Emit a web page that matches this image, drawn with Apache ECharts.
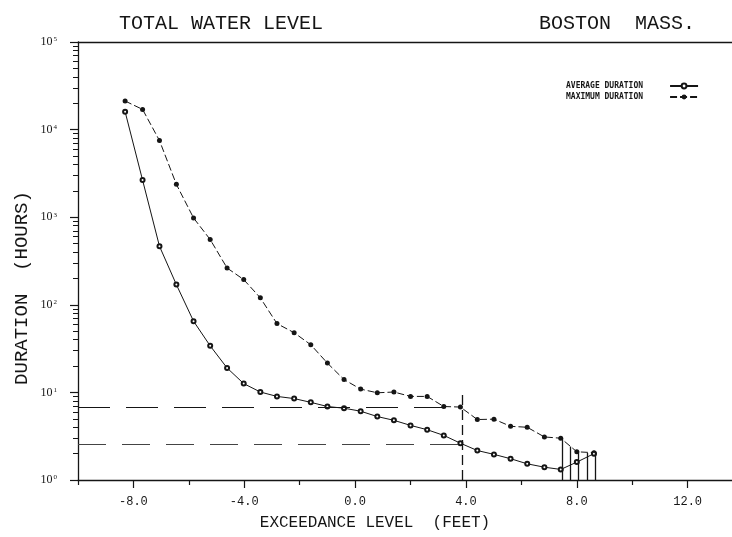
<!DOCTYPE html>
<html>
<head>
<meta charset="utf-8">
<script src="https://cdn.jsdelivr.net/npm/echarts@6/dist/echarts.min.js"></script>
<style>
  html, body { margin: 0; padding: 0; background: #fff; }
  #main { width: 732px; height: 537px; }
</style>
</head>
<body>
<div id="main"></div>
<script>
// exceedance level (feet) shared by both curves
const levels = [-8.3, -7.67, -7.06, -6.45, -5.83, -5.23, -4.62, -4.02, -3.42, -2.82,
  -2.2, -1.6, -1.0, -0.4, 0.2, 0.8, 1.4, 2.0, 2.6, 3.2,
  3.8, 4.41, 5.01, 5.61, 6.21, 6.83, 7.42, 8.0, 8.62];
// duration (hours)
const maxDuration = [21200, 17000, 7500, 2370, 980, 556, 263, 194, 120, 61,
  48, 35, 21.6, 14.0, 10.9, 9.9, 10.1, 9.0, 9.0, 6.9,
  6.8, 4.9, 4.95, 4.1, 4.0, 3.1, 3.0, 2.1, 2.05];
const avgDuration = [16000, 2650, 466, 170, 65, 34, 19, 12.6, 10.1, 9.0,
  8.5, 7.7, 6.9, 6.6, 6.1, 5.3, 4.8, 4.2, 3.75, 3.23,
  2.63, 2.17, 1.96, 1.75, 1.53, 1.40, 1.32, 1.6, 2.0];

// reading lines at 4 ft
const refLevel = 3.85;
const refMax = 6.8;
const refAvg = 2.55;
const refTop = 10;

// hatched end region
const hatchLevels = [7.46, 7.76, 8.06, 8.36, 8.66];
const hatchTops = [2.98, 2.41, 2.12, 2.04, 2.06];

const xLabelTicks = [-8, -4, 0, 4, 8, 12];
const xMinorTicks = [-10, -6, -2, 2, 6, 10];
const yMajorTicks = [1, 10, 100, 1000, 10000, 100000];
const yMinorTicks = [];
for (let d = 1; d <= 10000; d *= 10) {
  for (let k = 2; k <= 9; k++) yMinorTicks.push(k * d);
}

const ink = '#151515';
const mono = 'Liberation Mono';

function pairs(xs, ys) {
  return xs.map((x, i) => [x, ys[i]]);
}

let myChart = echarts.init(document.getElementById('main'));

let option = {
  animation: false,
  backgroundColor: '#fff',
  title: [
    { text: 'TOTAL WATER LEVEL', left: 114, top: 9,
      textStyle: { fontFamily: mono, fontSize: 20, fontWeight: 'normal', color: ink } },
    { text: 'BOSTON  MASS.', left: 534, top: 9,
      textStyle: { fontFamily: mono, fontSize: 20, fontWeight: 'normal', color: ink } }
  ],
  legend: {
    orient: 'vertical',
    left: 561,
    top: 77,
    align: 'right',
    itemWidth: 28,
    itemHeight: 6,
    itemGap: 3,
    textStyle: { fontFamily: 'DejaVu Sans Mono', fontWeight: 'bold', fontSize: 8, color: ink, padding: [0, 22, 0, 0] },
    data: ['AVERAGE DURATION', 'MAXIMUM DURATION']
  },
  grid: { left: 78, right: 0, top: 42, bottom: 57 },
  xAxis: [
    {
      type: 'value', min: -10, max: 13.6, position: 'bottom',
      axisLine: { onZero: false, lineStyle: { color: ink, width: 1.3 } },
      axisTick: { customValues: xLabelTicks, length: 8, lineStyle: { color: ink, width: 1.2 } },
      axisLabel: { customValues: xLabelTicks, margin: 16, fontFamily: mono, fontSize: 12, color: ink,
        formatter: v => v.toFixed(1) },
      splitLine: { show: false }
    },
    {
      type: 'value', min: -10, max: 13.6, position: 'bottom',
      axisLine: { show: false, onZero: false },
      axisTick: { customValues: xMinorTicks, length: 5, lineStyle: { color: ink, width: 1.2 } },
      axisLabel: { show: false },
      splitLine: { show: false }
    },
    {
      type: 'value', min: -10, max: 13.6, position: 'top',
      axisLine: { onZero: false, lineStyle: { color: ink, width: 1.3 } },
      axisTick: { show: false },
      axisLabel: { show: false },
      splitLine: { show: false }
    }
  ],
  yAxis: [
    {
      type: 'log', logBase: 10, min: 1, max: 100000, position: 'left',
      axisLine: { show: true, onZero: false, lineStyle: { color: ink, width: 1.3 } },
      axisTick: { customValues: yMajorTicks, length: 8, lineStyle: { color: ink, width: 1.2 } },
      axisLabel: {
        customValues: yMajorTicks, margin: 21, color: ink,
        formatter: v => '{b|10}{s|' + Math.round(Math.log10(v)) + '}',
        rich: {
          b: { fontFamily: 'Liberation Serif', fontSize: 12, color: ink },
          s: { fontFamily: 'Liberation Serif', fontSize: 7, color: ink, verticalAlign: 'top', padding: [0, 0, 0, 1] }
        }
      },
      splitLine: { show: false }
    },
    {
      type: 'log', logBase: 10, min: 1, max: 100000, position: 'left',
      axisLine: { show: false, onZero: false },
      axisTick: { customValues: yMinorTicks, length: 5, lineStyle: { color: ink, width: 1 } },
      axisLabel: { show: false },
      splitLine: { show: false }
    }
  ],
  graphic: [
    { type: 'text', x: 375, y: 523, style: { text: 'EXCEEDANCE LEVEL  (FEET)', font: '16px "Liberation Mono"',
      fill: ink, align: 'center', verticalAlign: 'middle', textAlign: 'center', textVerticalAlign: 'middle' } },
    { type: 'text', x: 22, y: 288, rotation: Math.PI / 2, style: { text: 'DURATION  (HOURS)', font: '19px "Liberation Mono"',
      fill: ink, align: 'center', verticalAlign: 'middle', textAlign: 'center', textVerticalAlign: 'middle' } }
  ],
  series: [
    {
      name: 'MAXIMUM DURATION',
      type: 'line',
      data: pairs(levels, maxDuration),
      symbol: 'circle',
      symbolSize: 5,
      itemStyle: { color: ink },
      lineStyle: { color: ink, width: 1, type: [7, 3] },
      markLine: {
        silent: true,
        symbol: 'none',
        label: { show: false },
        lineStyle: { color: ink, width: 1.2, type: [32, 16] },
        data: [
          [{ coord: [-10, refMax] }, { coord: [refLevel, refMax] }],
          [{ coord: [refLevel, 1], lineStyle: { type: [10, 5], width: 1.3 } },
           { coord: [refLevel, refTop] }]
        ].concat(hatchLevels.map((x, i) => [
          { coord: [x, 1], lineStyle: { type: 'solid', width: 1.3 } },
          { coord: [x, hatchTops[i]] }
        ]))
      }
    },
    {
      name: 'AVERAGE DURATION',
      type: 'line',
      data: pairs(levels, avgDuration),
      symbol: 'emptyCircle',
      symbolSize: 4,
      itemStyle: { color: ink, borderWidth: 1.5 },
      lineStyle: { color: ink, width: 1 },
      markLine: {
        silent: true,
        symbol: 'none',
        label: { show: false },
        lineStyle: { color: '#444', width: 1.1, type: [28, 16] },
        data: [
          [{ coord: [-10, refAvg] }, { coord: [refLevel, refAvg] }]
        ]
      }
    }
  ]
};

option && myChart.setOption(option);
</script>
</body>
</html>
